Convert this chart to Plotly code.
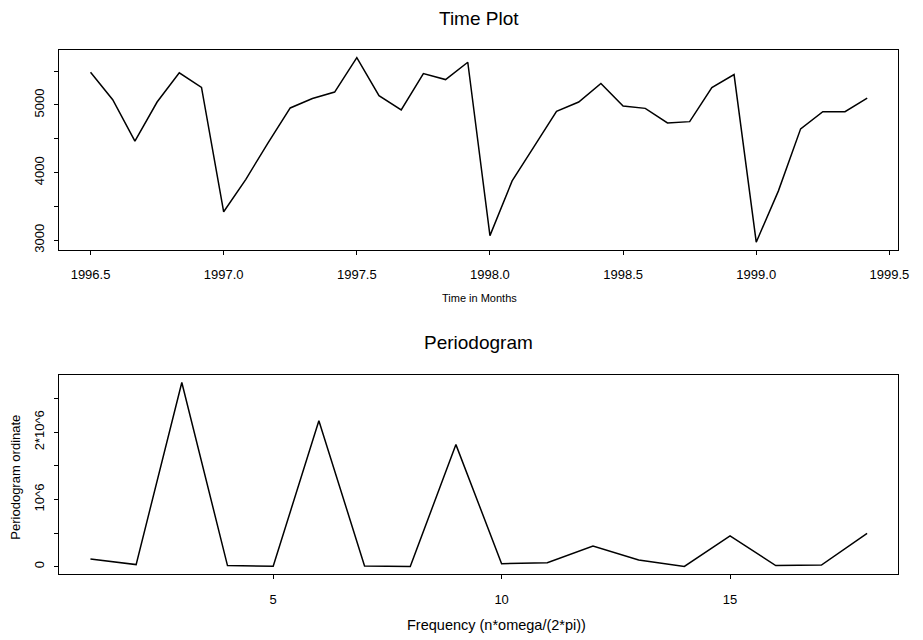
import plotly.graph_objects as go

# ---- data: time plot ----
months = [1996.5, 1996.5833, 1996.6667, 1996.75, 1996.8333, 1996.9167,
          1997.0, 1997.0833, 1997.1667, 1997.25, 1997.3333, 1997.4167,
          1997.5, 1997.5833, 1997.6667, 1997.75, 1997.8333, 1997.9167,
          1998.0, 1998.0833, 1998.1667, 1998.25, 1998.3333, 1998.4167,
          1998.5, 1998.5833, 1998.6667, 1998.75, 1998.8333, 1998.9167,
          1999.0, 1999.0833, 1999.1667, 1999.25, 1999.3333, 1999.4167]
sales = [5485, 5078, 4465, 5044, 5475, 5259,
         3421, 3901, 4441, 4956, 5095, 5191,
         5700, 5137, 4926, 5465, 5376, 5632,
         3068, 3877, 4391, 4906, 5044, 5318,
         4985, 4950, 4735, 4754, 5259, 5450,
         2971, 3730, 4647, 4901, 4901, 5103]

# ---- data: periodogram ----
freq = [1, 2, 3, 4, 5, 6, 7, 8, 9, 10, 11, 12, 13, 14, 15, 16, 17, 18]
pgram = [113000, 30000, 2741000, 15000, 5000, 2172000, 10000, 2000, 1816000,
         44000, 59000, 305000, 98000, 3000, 459000, 15000, 24000, 493000]

top_xticks = [1996.5, 1997.0, 1997.5, 1998.0, 1998.5, 1999.0, 1999.5]
top_xlabels = ["1996.5", "1997.0", "1997.5", "1998.0", "1998.5", "1999.0", "1999.5"]
top_yticks = [3000, 3500, 4000, 4500, 5000, 5500]
top_ylabels = ["3000", "", "4000", "", "5000", ""]
bot_xticks = [5, 10, 15]
bot_xlabels = ["5", "10", "15"]
bot_yticks = [0, 500000, 1000000, 1500000, 2000000, 2500000]
bot_ylabels = ["0", "", "10^6", "", "2*10^6", ""]

# page body has an 8px margin; the figure fills the rest of the window
OFF = 8
W, H = 923 - OFF, 640 - OFF
FONT = "Liberation Sans, Arial, Helvetica, sans-serif"
TICK = 13
MAIN = 19

def px_(x):
    return (x - OFF) / W

def py(y):
    return 1 - (y - OFF) / H

fig = go.Figure()
fig.add_trace(go.Scatter(x=months, y=sales, mode="lines",
                         line=dict(color="black", width=1.5),
                         xaxis="x", yaxis="y", showlegend=False))
fig.add_trace(go.Scatter(x=freq, y=pgram, mode="lines",
                         line=dict(color="black", width=1.5),
                         xaxis="x2", yaxis="y2", showlegend=False))

axis_common = dict(showline=True, mirror=True, linecolor="black", linewidth=1,
                   ticks="outside", ticklen=4, tickwidth=1, tickcolor="black",
                   showgrid=False, zeroline=False,
                   tickfont=dict(family=FONT, size=TICK, color="black"))

xd = [px_(60), px_(909)]
fig.update_layout(
    width=W, height=H,
    margin=dict(l=0, r=0, t=0, b=0),
    paper_bgcolor="white", plot_bgcolor="white",
    font=dict(family=FONT, color="black"),
    xaxis=dict(domain=xd, range=[1996.383, 1999.533], anchor="y",
               tickvals=top_xticks, ticktext=top_xlabels,
               ticklabelstandoff=9, **axis_common),
    yaxis=dict(domain=[py(250.7), py(50.5)], range=[2862, 5809], anchor="x",
               tickvals=top_yticks, ticktext=top_ylabels, tickangle=-90,
               ticklabelstandoff=5, **axis_common),
    xaxis2=dict(domain=xd, range=[0.32, 18.68], anchor="y2",
                tickvals=bot_xticks, ticktext=bot_xlabels,
                ticklabelstandoff=9, **axis_common),
    yaxis2=dict(domain=[py(576.7), py(376.7)], range=[-110000, 2853000], anchor="x2",
                tickvals=bot_yticks, ticktext=bot_ylabels, tickangle=-90,
                ticklabelstandoff=5, **axis_common),
)

cx = px_((60 + 909) / 2)
ann = [
    dict(text="Time Plot", x=cx, y=py(18.5), font=dict(size=MAIN)),
    dict(text="Time in Months", x=px_(485), y=py(299), font=dict(size=11)),
    dict(text="Periodogram", x=cx, y=py(343.7), font=dict(size=MAIN)),
    dict(text="Frequency (n*omega/(2*pi))", x=px_(502), y=py(628),
         font=dict(size=14.5)),
    dict(text="Periodogram ordinate", x=px_(16), y=py(479), textangle=-90,
         font=dict(size=13)),
]
for a in ann:
    a.update(xref="paper", yref="paper", showarrow=False,
             xanchor="center", yanchor="middle")
    a["font"].update(family=FONT, color="black")
fig.update_layout(annotations=ann)

fig.write_html("out.html")
